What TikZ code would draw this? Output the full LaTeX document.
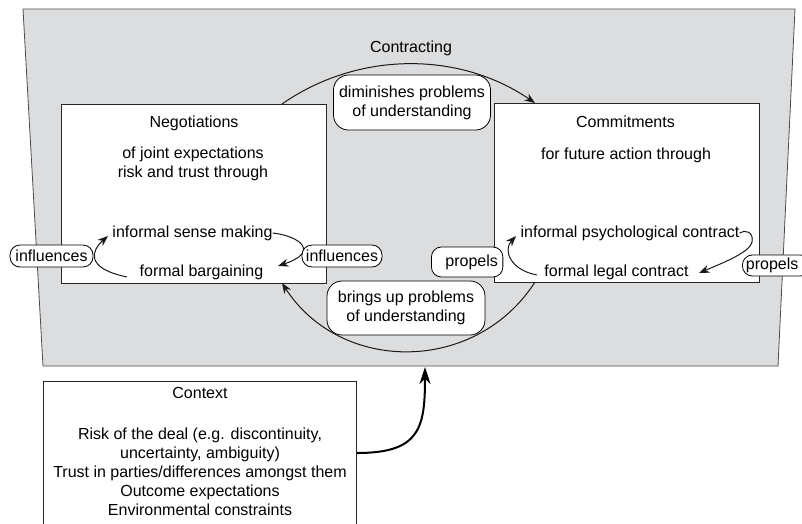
\documentclass[tikz,border=0pt]{standalone}
\usepackage{fontspec}
\setmainfont{Liberation Sans}
\usetikzlibrary{arrows.meta}
\definecolor{panel}{RGB}{220,221,223}
\begin{document}
\begin{tikzpicture}[x=1pt,y=-1pt,
  every node/.style={font=\fontsize{16}{19}\selectfont, inner sep=0pt},
  frame/.style={draw=black!85, line width=0.8pt, fill=white},
  tag/.style={draw=black, line width=0.8pt, fill=white, rounded corners=10pt, align=center},
  conn/.style={draw=black!90, line width=1pt, -{Stealth[length=10.5pt,width=8pt]}},
  thickconn/.style={draw=black, line width=2pt, -{Stealth[length=17pt,width=11pt]}},
]
\useasboundingbox (0,0) rectangle (802,523);
\clip (0,0) rectangle (802,523);

% contracting panel
\path[fill=panel, draw=black!70, line width=0.8pt]
  (23,9) -- (795,9) -- (778,366) -- (43,366) -- cycle;
\node (title) at (411,48) {Contracting};

% negotiations box
\node[frame, minimum width=265pt, minimum height=179pt] (neg) at (193.5,193.5) {};
\node (negt) at (194,123) {Negotiations};
\node[align=center] (negs) at (193,164) {of joint expectations\\risk and trust through};
\node (ism) at (192.5,233) {informal sense making};
\node (fb) at (201.5,272) {formal bargaining};

% commitments box
\node[frame, minimum width=265pt, minimum height=179pt] (com) at (626.5,192.5) {};
\node (comt) at (625.5,122) {Commitments};
\node (coms) at (626,155) {for future action through};
\node (ipc) at (630,233) {informal psychological contract};
\node (flc) at (616.5,272) {formal legal contract};

% context box
\node[frame, minimum width=313pt, minimum height=170pt] (ctx) at (199.5,466) {};
\node (ctxt) at (200,393) {Context};
\node[align=center] (ctxs) at (200,472) {Risk of the deal (e.g. discontinuity,\\uncertainty, ambiguity)\\Trust in parties/differences amongst them\\Outcome expectations\\Environmental constraints};

% anchor points of the connectors
\coordinate (t1) at (282,104);
\coordinate (t2) at (535,103);
\coordinate (b1) at (535,282);
\coordinate (b2) at (282,283);
\coordinate (c1) at (357,453);
\coordinate (c2) at (425,367);

% loop between negotiations and commitments
\draw[conn] (t1) .. controls (358,51) and (459,51) .. (t2);
\draw[conn] (b1) .. controls (476,374) and (341,374) .. (b2);
\draw[thickconn] (c1) .. controls (420,453) and (425,428) .. (c2);

% arrows inside negotiations
\draw[conn] (127,277) .. controls (84,268) and (92,250) .. (108,236);
\draw[conn] (ism.east) .. controls (300,236) and (320,252) .. (278,266);

% arrows inside commitments
\draw[conn] (537,275) .. controls (510,270) and (503,250) .. (516,236);
\draw[conn] (ipc.east) .. controls (745,229) and (754,232) .. (752,242)
  .. controls (750,252) and (725,262) .. (699,273);

% labels on the connectors
\node[tag, rounded corners=15pt, minimum width=157pt, minimum height=55pt] (dim) at (412,102.5)
  {diminishes problems\\of understanding};
\node[tag, rounded corners=15pt, minimum width=158pt, minimum height=54pt] (bup) at (406,308)
  {brings up problems\\of understanding};
\node[tag, minimum width=83pt, minimum height=22pt] (infl) at (51.5,256) {influences};
\node[tag, minimum width=80pt, minimum height=22pt] (infr) at (342,256) {influences};
\node[tag, anchor=west, minimum height=30pt] (prl) at (431,262) {\hspace*{14pt}propels\hspace*{5pt}};
\node[tag, anchor=west, minimum height=21pt] (prr) at (742,265.5) {\hspace*{3.5pt}propels\hspace*{12pt}};
\end{tikzpicture}
\end{document}
